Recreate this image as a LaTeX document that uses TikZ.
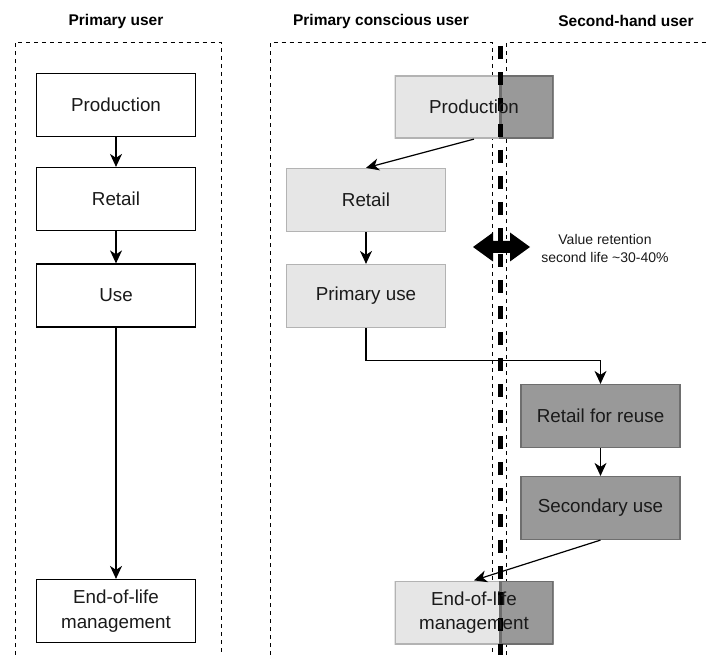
\documentclass[tikz,border=0pt]{standalone}
\usepackage{fontspec}
\setmainfont{Liberation Sans}
\usetikzlibrary{arrows.meta,calc}
\definecolor{lightfill}{HTML}{E6E6E6}
\definecolor{lightline}{HTML}{B3B3B3}
\definecolor{darkfill}{HTML}{999999}
\definecolor{darkline}{HTML}{6E6E6E}
\definecolor{inktext}{HTML}{1A1A1A}

\tikzset{
  lane/.style={draw=black, line width=1pt, dash pattern=on 4pt off 4pt},
  header/.style={font=\fontsize{15.5}{18}\selectfont\bfseries, anchor=center},
  plainbox/.style={draw=black, fill=white, line width=1.2pt, minimum width=159pt,
    minimum height=63pt, inner sep=0pt, align=center,
    font=\fontsize{18.8}{24.5}\selectfont, text=inktext},
  lightbox/.style={plainbox, draw=lightline, fill=lightfill},
  darkbox/.style={plainbox, draw=darkline, fill=darkfill},
  splitbox/.style={plainbox, draw=none, fill=lightfill,
    path picture={
      \fill[darkfill] (split |- path picture bounding box.north)
        rectangle (path picture bounding box.south east);
      \draw[lightline, line width=2.4pt] (path picture bounding box.north west)
        rectangle (split |- path picture bounding box.south);
      \draw[darkline, line width=2.4pt] (split |- path picture bounding box.north)
        rectangle (path picture bounding box.south east);
    }},
  flow/.style={draw=black, line width=1.2pt,
    -{Stealth[length=13pt, width=12pt, inset=4pt]}},
  divider/.style={draw=black, line width=5pt, dash pattern=on 13pt off 13pt}
}

\begin{document}
\begin{tikzpicture}[x=1pt, y=-1pt]
  \useasboundingbox (0,0) rectangle (707,655);
  \coordinate (split) at (500.5,0);

  % column headers
  \node[header] (h1) at (116,21) {Primary user};
  \node[header] (h2) at (381,21) {Primary conscious user};
  \node[header] (h3) at (626,21) {Second-hand user};

  % dashed lanes
  \draw[lane] (15,655) -- (15,42.5) -- (221,42.5) -- (221,655);
  \draw[lane] (270,655) -- (270,42.5) -- (492,42.5) -- (492,655);
  \draw[lane] (506,655) -- (506,42.5) -- (707,42.5);

  % primary user chain
  \node[plainbox] (lprod) at (116,105) {Production};
  \node[plainbox] (lretail) at (116,199) {Retail};
  \node[plainbox] (luse) at (116,295.5) {Use};
  \node[plainbox] (leol) at (116,611) {End-of-life\\management};
  \draw[flow] (lprod.south) -- (lretail.north);
  \draw[flow] (lretail.south) -- (luse.north);
  \draw[flow] (luse.south) -- (leol.north);

  % primary conscious user and second-hand user chain
  \node[splitbox] (mprod) at (474,107) {};
  \node[lightbox] (mretail) at (366,200) {Retail};
  \node[lightbox] (muse) at (366,296) {Primary use};
  \node[darkbox] (rreuse) at (600.5,416) {Retail for reuse};
  \node[darkbox] (rsec) at (600.5,508) {Secondary use};
  \node[splitbox] (meol) at (474,612.5) {};

  \draw[flow] (mprod.south) -- (mretail.north);
  \draw[flow] (mretail.south) -- (muse.north);
  \draw[flow] (muse.south) -- ++(0,32) -| (rreuse.north);
  \draw[flow] (rreuse.south) -- (rsec.north);
  \draw[flow] (rsec.south) -- (meol.north);

  % value retention double arrow
  \fill[black] (473,247) -- (493,232.5) -- (493,241) -- (510,241) -- (510,232.5)
    -- (530,247) -- (510,261.5) -- (510,253) -- (493,253) -- (493,261.5) -- cycle;
  \node[font=\fontsize{14}{18}\selectfont, align=center, text=inktext] (vr)
    at (605,248) {Value retention\\second life \textasciitilde30-40\%};

  % thick divider between owners
  \draw[divider] (split |- 0,46) -- (split |- 0,655);

  % labels of the split boxes, set above the divider
  \node[plainbox, draw=none, fill=none] (mprodtext) at (mprod) {Production};
  \node[plainbox, draw=none, fill=none] (meoltext) at (meol) {End-of-life\\management};
\end{tikzpicture}
\end{document}
